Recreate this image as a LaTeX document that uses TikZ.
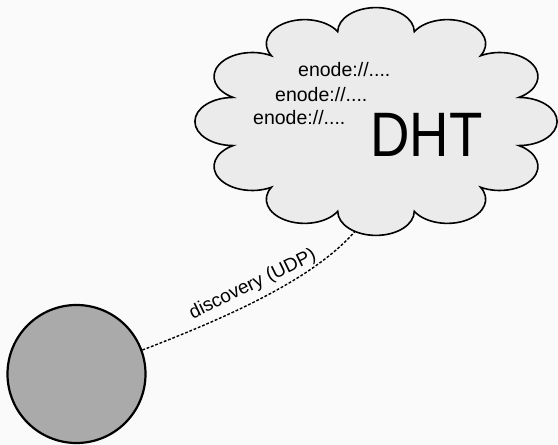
\documentclass[tikz,border=0pt]{standalone}
\usepackage{fontspec}
\setmainfont{Liberation Sans}
\definecolor{bgcol}{HTML}{FAFAFA}
\definecolor{cloudfill}{HTML}{EBEBEB}
\definecolor{peerfill}{HTML}{AAAAAA}
\begin{document}
\begin{tikzpicture}[x=1pt,y=1pt,
  cloudshape/.style={draw=black, line width=1.6pt, fill=cloudfill},
  peerstyle/.style={circle, draw=black, line width=2.2pt, fill=peerfill, minimum size=138pt, inner sep=0pt},
  link/.style={draw=black, line width=1.4pt, dash pattern=on 2.8pt off 1.8pt},
  entry/.style={anchor=base west, inner sep=0pt, font=\fontsize{19.5}{23}\selectfont, text=black},
  biglabel/.style={anchor=base west, inner sep=0pt, xscale=0.87, font=\fontsize{62.8}{70}\selectfont, text=black},
  linklabel/.style={anchor=base, inner sep=0pt, rotate=26, font=\fontsize{19}{22}\selectfont, text=black},
]
\fill[bgcol] (0,0) rectangle (558,445);
\useasboundingbox (0,0) rectangle (558,445);
\node[peerstyle] (peer) at (76.5,71) {};
\coordinate (dhtbottom) at (357,216);
\draw[link] (peer.20) .. controls +(21:100) and +(230:62) .. (dhtbottom);
\begin{scope}[shift={(376,323.5)}, xscale=1.59]
\draw[cloudshape] (-15:93) \foreach \k in {0,...,11}{ arc[start angle=30*\k-90, delta angle=180, radius=24.07] } -- cycle;
\end{scope}
\node[entry] (e1) at (298,368) {enode://....};
\node[entry] (e2) at (275,343.5) {enode://....};
\node[entry] (e3) at (253,320) {enode://....};
\node[biglabel] (dht) at (370,288) {DHT};
\node[linklabel] (lbl) at (255,156) {discovery (UDP)};
\end{tikzpicture}
\end{document}
